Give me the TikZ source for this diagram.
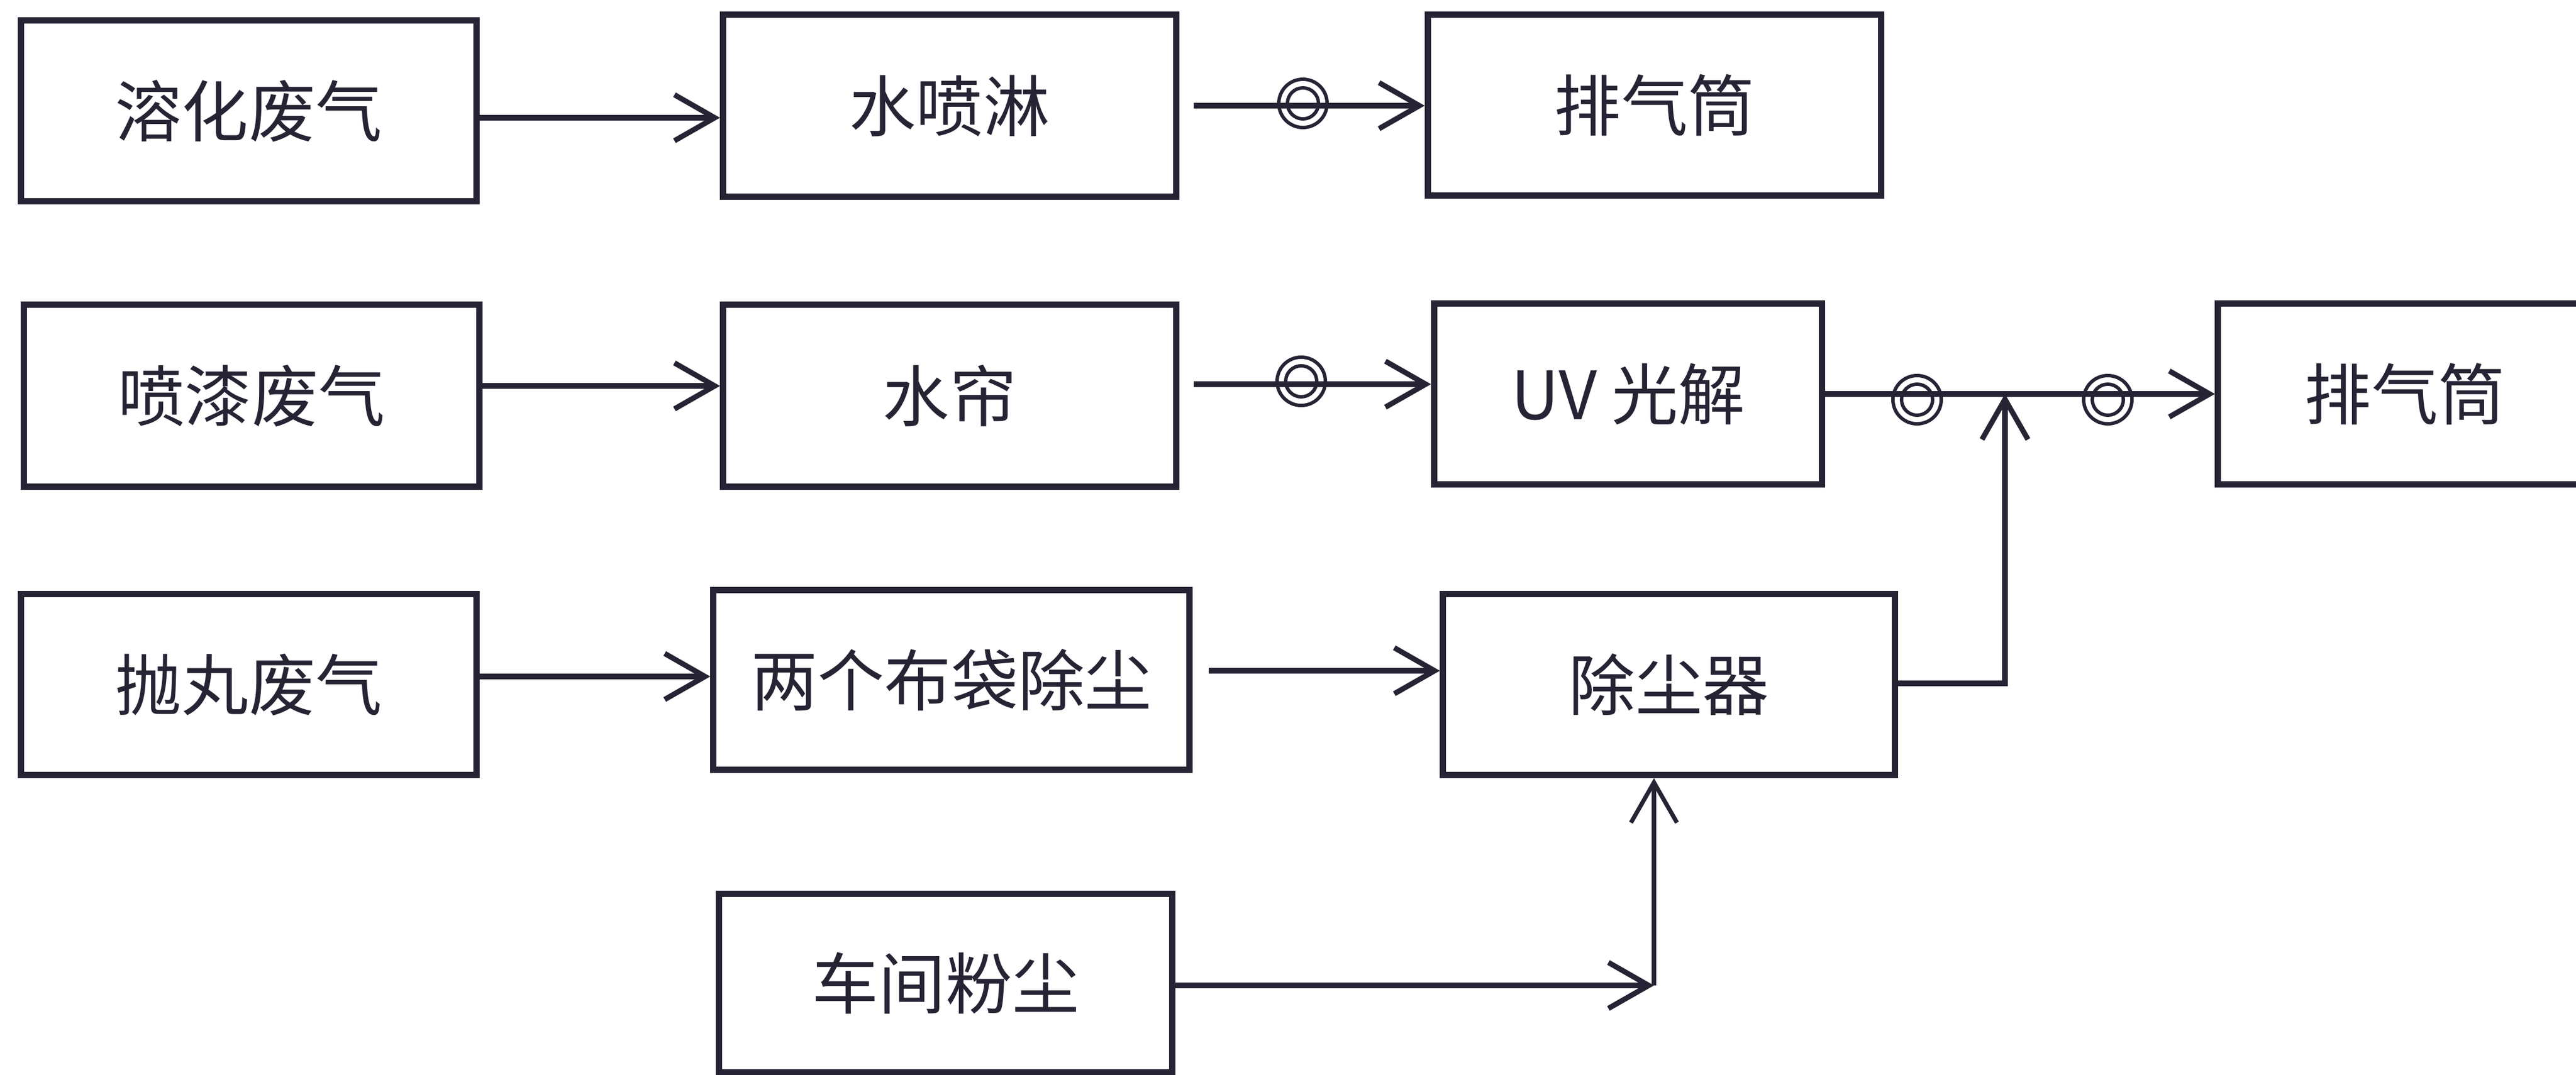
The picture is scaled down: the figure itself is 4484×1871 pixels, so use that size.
\documentclass[tikz,border=0pt]{standalone}
\usepackage{fontspec}
\setmainfont{Noto Sans CJK SC}
\usetikzlibrary{arrows.meta}
\definecolor{ink}{RGB}{38,36,52}
\begin{document}
\begin{tikzpicture}[x=0.01cm,y=-0.01cm,
  box/.style={draw=ink, line width=3.1pt, minimum width=7.9cm, minimum height=3.14cm,
    inner sep=0pt, font=\fontsize{33pt}{40pt}\selectfont, text=ink},
  conn/.style={draw=ink, line width=2.6pt, -{Straight Barb[length=7mm,width=8mm]}},
  thinconn/.style={conn, line width=2.1pt},
  ringo/.style={circle, draw=ink, line width=1.7pt, minimum size=0.84cm, inner sep=0pt},
  ringi/.style={circle, draw=ink, line width=1.7pt, minimum size=0.54cm, inner sep=0pt}]
\fill[white] (0,0) rectangle (4484,1871);
\useasboundingbox (0,0) rectangle (4484,1871);

% row 1
\node[box, minimum width=7.92cm] (a1) at (433,193) {溶化废气};
\node[box, minimum width=7.88cm, minimum height=3.16cm] (a2) at (1653,184) {水喷淋};
\node[box, minimum width=7.89cm] (a3) at (2880,183) {排气筒};
% row 2
\node[box, minimum width=7.93cm, minimum height=3.17cm] (b1) at (438,689) {喷漆废气};
\node[box, minimum width=7.88cm, minimum height=3.16cm] (b2) at (1653,689) {水帘};
\node[box, minimum width=6.75cm, minimum height=3.15cm] (b3) at (2834,686) {UV 光解};
\node[box, minimum width=6.50cm, minimum height=3.15cm] (b4) at (4186,686) {排气筒};
% row 3
\node[box, minimum width=7.93cm] (c1) at (433,1192) {抛丸废气};
\node[box, minimum width=8.28cm, minimum height=3.12cm] (c2) at (1656,1184) {两个布袋除尘};
\node[box, minimum width=7.86cm, minimum height=3.15cm] (c3) at (2905,1192) {除尘器};
% row 4
\node[box, minimum width=7.88cm, minimum height=3.11cm] (d2) at (1646,1712) {车间粉尘};

% row 1 connectors
\draw[conn] (a1.east |- 0,205) -- (a2.west |- 0,205);
\draw[conn] ([xshift=0.25cm]a2.east |- 0,184) -- (a3.west |- 0,184);
\node[ringo] (r1) at (2268,180) {};
\node[ringi] (r1i) at (r1) {};

% row 2 connectors
\draw[conn] (b1.east |- 0,672) -- (b2.west |- 0,672);
\draw[conn] ([xshift=0.25cm]b2.east |- 0,669) -- (b3.west |- 0,669);
\node[ringo] (r2) at (2265,664) {};
\node[ringi] (r2i) at (r2) {};
\draw[conn] (b3.east |- 0,686) -- (b4.west |- 0,686);
\node[ringo] (r3) at (3337,696) {};
\node[ringi] (r3i) at (r3) {};
\node[ringo] (r4) at (3669,696) {};
\node[ringi] (r4i) at (r4) {};
\coordinate (j1) at (3490,686);
\draw[conn] (c3.east |- 0,1190) -| (j1);

% row 3 connectors
\draw[conn] (c1.east |- 0,1178) -- (c2.west |- 0,1178);
\draw[conn] ([xshift=0.28cm]c2.east |- 0,1168) -- (c3.west |- 0,1168);

% row 4 connectors
\coordinate (j2) at (2879,1716);
\draw[conn] (d2.east |- j2) -- (j2);
\draw[thinconn] (j2) -- (c3.south -| j2);
\end{tikzpicture}
\end{document}
